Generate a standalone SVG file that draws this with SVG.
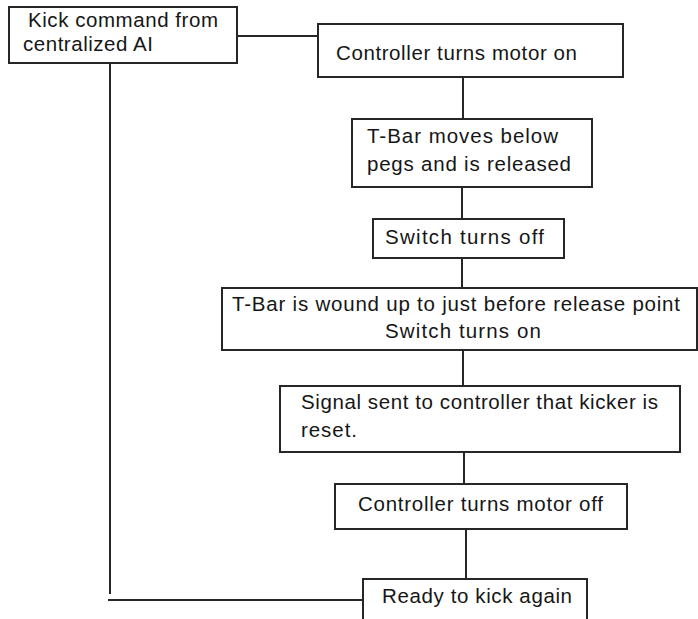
<svg xmlns="http://www.w3.org/2000/svg" width="698" height="619" viewBox="0 0 698 619">
  <style>
    .box { fill: #ffffff; stroke: #262626; stroke-width: 2; }
    .wire { fill: none; stroke: #262626; stroke-width: 2; }
    .lbl { font-family: "Liberation Sans", Arial, sans-serif; font-size: 20.5px; fill: #161616; }
  </style>
  <rect width="698" height="619" fill="#ffffff"/>

  <g id="connectors">
    <line class="wire" x1="237" y1="36" x2="318" y2="36"/>
    <line class="wire" x1="110" y1="63" x2="110" y2="594"/>
    <line class="wire" x1="108" y1="600" x2="363" y2="600"/>
    <line class="wire" x1="463" y1="77" x2="463" y2="119"/>
    <line class="wire" x1="462" y1="187" x2="462" y2="219"/>
    <line class="wire" x1="462" y1="258" x2="462" y2="288"/>
    <line class="wire" x1="463" y1="350" x2="463" y2="386"/>
    <line class="wire" x1="464" y1="452" x2="464" y2="484"/>
    <line class="wire" x1="466" y1="529" x2="466" y2="579"/>
  </g>

  <g id="kick-command">
    <rect class="box" x="9" y="7" width="228" height="56"/>
    <text class="lbl" x="28" y="27" textLength="190" lengthAdjust="spacing">Kick command from</text>
    <text class="lbl" x="23" y="51" textLength="130" lengthAdjust="spacing">centralized AI</text>
  </g>

  <g id="motor-on">
    <rect class="box" x="318" y="24" width="305" height="53"/>
    <text class="lbl" x="336" y="60" textLength="241" lengthAdjust="spacing">Controller turns motor on</text>
  </g>

  <g id="tbar-release">
    <rect class="box" x="352" y="119" width="240" height="68"/>
    <text class="lbl" x="367" y="143" textLength="191" lengthAdjust="spacing">T-Bar moves below</text>
    <text class="lbl" x="367" y="171" textLength="204" lengthAdjust="spacing">pegs and is released</text>
  </g>

  <g id="switch-off">
    <rect class="box" x="373" y="219" width="191" height="39"/>
    <text class="lbl" x="385" y="244" textLength="159" lengthAdjust="spacing">Switch turns off</text>
  </g>

  <g id="tbar-wound">
    <rect class="box" x="222" y="288" width="475" height="62"/>
    <text class="lbl" x="232" y="311" textLength="448" lengthAdjust="spacing">T-Bar is wound up to just before release point</text>
    <text class="lbl" x="385" y="338" textLength="156" lengthAdjust="spacing">Switch turns on</text>
  </g>

  <g id="signal-reset">
    <rect class="box" x="280" y="386" width="400" height="66"/>
    <text class="lbl" x="301" y="409" textLength="357" lengthAdjust="spacing">Signal sent to controller that kicker is</text>
    <text class="lbl" x="301" y="437" textLength="56" lengthAdjust="spacing">reset.</text>
  </g>

  <g id="motor-off">
    <rect class="box" x="335" y="484" width="292" height="45"/>
    <text class="lbl" x="358" y="511" textLength="245" lengthAdjust="spacing">Controller turns motor off</text>
  </g>

  <g id="ready">
    <rect class="box" x="363" y="579" width="224" height="60"/>
    <text class="lbl" x="382" y="603" textLength="190" lengthAdjust="spacing">Ready to kick again</text>
  </g>
</svg>
